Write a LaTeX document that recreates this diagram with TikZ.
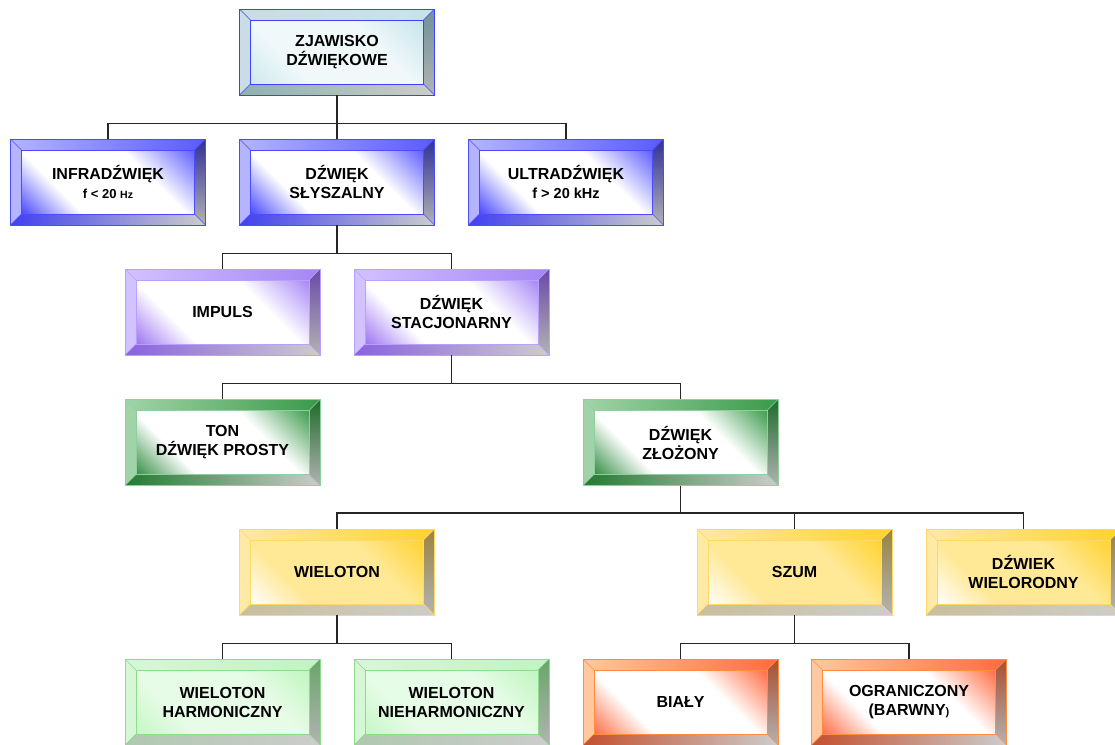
\documentclass[tikz,border=0pt]{standalone}
\usepackage{fontspec}
\setmainfont{Liberation Sans}
\usetikzlibrary{calc}
\definecolor{zB}{HTML}{4040FF}\definecolor{zA}{HTML}{CDE8EE}\definecolor{zC}{HTML}{C6E4EC}\definecolor{zL}{HTML}{CADCE6}\definecolor{zD}{HTML}{6F9299}\definecolor{zO}{HTML}{8FB0B6}
\definecolor{bB}{HTML}{4B4BFF}\definecolor{bA}{HTML}{4444FF}\definecolor{bC}{HTML}{5A5AFF}\definecolor{bL}{HTML}{B4B4FF}\definecolor{bD}{HTML}{303098}\definecolor{bO}{HTML}{4040F0}
\definecolor{pB}{HTML}{B8A0FF}\definecolor{pA}{HTML}{9B70F0}\definecolor{pC}{HTML}{A585F5}\definecolor{pL}{HTML}{D2C2FF}\definecolor{pD}{HTML}{6A4AA8}\definecolor{pO}{HTML}{8A62E0}
\definecolor{gB}{HTML}{8FCF9F}\definecolor{gA}{HTML}{2E8A3E}\definecolor{gC}{HTML}{3A9A4A}\definecolor{gL}{HTML}{A0D4A8}\definecolor{gD}{HTML}{1F6B2C}\definecolor{gO}{HTML}{237A30}
\definecolor{yB}{HTML}{FFD966}\definecolor{yA}{HTML}{FFFFFF}\definecolor{yC}{HTML}{FFD22E}\definecolor{yL}{HTML}{FFE9A6}\definecolor{yD}{HTML}{9A8440}\definecolor{yO}{HTML}{C8BFA0}
\definecolor{lB}{HTML}{8CDC8C}\definecolor{lA}{HTML}{C4F7C4}\definecolor{lC}{HTML}{BFF5BF}\definecolor{lL}{HTML}{D6F7D6}\definecolor{lD}{HTML}{6AA56A}\definecolor{lO}{HTML}{B0C8B0}
\definecolor{oB}{HTML}{FF8C40}\definecolor{oA}{HTML}{FF6A40}\definecolor{oC}{HTML}{FF6A40}\definecolor{oL}{HTML}{FFC89E}\definecolor{oD}{HTML}{A85030}\definecolor{oO}{HTML}{C4502E}
\colorlet{bevA}{white}\colorlet{bevM}{white}\colorlet{bevC}{white}
\pgfdeclarehorizontalshading[bevA,bevM,bevC]{bevface}{100bp}{color(0bp)=(bevA); color(14bp)=(bevA); color(33bp)=(bevM); color(64bp)=(bevM); color(86bp)=(bevC); color(100bp)=(bevC)}
\tikzset{
  conn/.style={draw=black!85, line width=1.2pt},
  bev/.style n args={7}{draw=#1, line width=0.8pt, minimum width=195pt, minimum height=86pt,
    inner sep=0pt, align=center, font=\bfseries\fontsize{16}{19}\selectfont,
    path picture={
      \coordinate (NW) at (path picture bounding box.north west);
      \coordinate (NE) at (path picture bounding box.north east);
      \coordinate (SW) at (path picture bounding box.south west);
      \coordinate (SE) at (path picture bounding box.south east);
      \coordinate (iNW) at ([shift={(11pt,-11pt)}]NW);
      \coordinate (iNE) at ([shift={(-11pt,-11pt)}]NE);
      \coordinate (iSW) at ([shift={(11pt,11pt)}]SW);
      \coordinate (iSE) at ([shift={(-11pt,11pt)}]SE);
      \shade[left color=#4, right color=#3] (NW) -- (NE) -- (iNE) -- (iNW) -- cycle;
      \fill[#4] (NW) -- (iNW) -- (iSW) -- (SW) -- cycle;
      \shade[top color=#5, bottom color=gray!60] (NE) -- (SE) -- (iSE) -- (iNE) -- cycle;
      \shade[left color=#6, right color=gray!40] (SW) -- (iSW) -- (iSE) -- (SE) -- cycle;
      \colorlet{bevA}{#2}\colorlet{bevM}{#7}\colorlet{bevC}{#3}
      \shade[shading=bevface, shading angle=45] (iSW) rectangle (iNE);
      \draw[#1, line width=0.6pt] (iSW) rectangle (iNE);
      \draw[#1, line width=0.4pt] (NW)--(iNW) (NE)--(iNE) (SW)--(iSW) (SE)--(iSE);
    }},
  zbox/.style={bev={zB}{zA}{zC}{zL}{zD}{zO}{white!70!zA}},
  bbox/.style={bev={bB}{bA}{bC}{bL}{bD}{bO}{white}},
  pbox/.style={bev={pB}{pA}{pC}{pL}{pD}{pO}{white}},
  gbox/.style={bev={gB}{gA}{gC}{gL}{gD}{gO}{white}},
  ybox/.style={bev={yB}{yA}{yC}{yL}{yD}{yO}{white!50!yC}},
  lbox/.style={bev={lB}{lA}{lC}{lL}{lD}{lO}{white!60!lA}},
  obox/.style={bev={oB}{oA}{oC}{oL}{oD}{oO}{white}},
}
\begin{document}
\begin{tikzpicture}[x=1pt, y=-1pt]
\useasboundingbox (0,0) rectangle (1115,744);
\clip (0,0) rectangle (1115,744);
\fill[white] (0,0) rectangle (1115,744);
% nodes
\node[zbox] (n1) at (337,52) {ZJAWISKO\\DŹWIĘKOWE};
\node[bbox] (n2a) at (108,182) {INFRADŹWIĘK\\{\fontsize{13}{14}\selectfont f < 20 {\fontsize{10.5}{12}\selectfont Hz}}};
\node[bbox] (n2b) at (337,182) {DŹWIĘK\\SŁYSZALNY};
\node[bbox] (n2c) at (566,182) {ULTRADŹWIĘK\\{\fontsize{14.5}{16}\selectfont f > 20 kHz}};
\node[pbox] (n3a) at (222.5,312) {IMPULS};
\node[pbox] (n3b) at (451.5,312) {DŹWIĘK\\STACJONARNY};
\node[gbox] (n4a) at (222.5,442.5) {TON\\DŹWIĘK PROSTY};
\node[gbox] (n4b) at (680.5,442.5) {DŹWIĘK\\ZŁOŻONY};
\node[ybox] (n5a) at (337,572) {WIELOTON};
\node[ybox] (n5b) at (794.5,572) {SZUM};
\node[ybox] (n5c) at (1023.5,572) {DŹWIEK\\WIELORODNY};
\node[lbox] (n6a) at (222.5,702) {WIELOTON\\HARMONICZNY};
\node[lbox] (n6b) at (451.5,702) {WIELOTON\\NIEHARMONICZNY};
\node[obox] (n6c) at (680.5,702) {BIAŁY};
\node[obox] (n6d) at (909,702) {OGRANICZONY\\(BARWNY{\fontsize{11}{12}\selectfont )}};
% connectors
\foreach \c in {n2a,n2b,n2c} \draw[conn] (n1.south) -- ++(0,-28pt) -| (\c.north);
\foreach \c in {n3a,n3b} \draw[conn] (n2b.south) -- ++(0,-28pt) -| (\c.north);
\foreach \c in {n4a,n4b} \draw[conn] (n3b.south) -- ++(0,-28pt) -| (\c.north);
\foreach \c in {n5a,n5b,n5c} \draw[conn] (n4b.south) -- ++(0,-27pt) -| (\c.north);
\foreach \c in {n6a,n6b} \draw[conn] (n5a.south) -- ++(0,-28pt) -| (\c.north);
\foreach \c in {n6c,n6d} \draw[conn] (n5b.south) -- ++(0,-28pt) -| (\c.north);
\end{tikzpicture}
\end{document}
